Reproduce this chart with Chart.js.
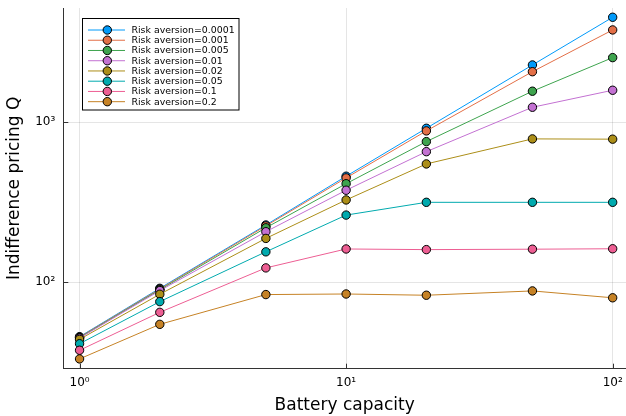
<!DOCTYPE html>
<html>
<head>
<meta charset="utf-8">
<script src="https://cdn.jsdelivr.net/npm/chart.js@4.4.1/dist/chart.umd.min.js"></script>
<style>
  html, body { margin: 0; padding: 0; background: #ffffff; }
  canvas { display: block; }
</style>
</head>
<body>
<canvas id="chart" width="626" height="416"></canvas>
<script>
// Battery capacities (x axis, log scale)
const capacities = [1, 2, 5, 10, 20, 50, 100];

// Indifference price Q per risk-aversion level
const q_0_0001 = [45.7, 91.7, 228, 460, 917, 2280, 4530];
const q_0_001  = [45.4, 90.8, 225, 449, 883, 2070, 3775];
const q_0_005  = [45.1, 89.8, 219, 413, 757, 1563, 2535];
const q_0_01   = [44.8, 88.7, 207, 376, 655, 1241, 1585];
const q_0_02   = [44.0, 84.2, 188, 327, 549, 787, 784];
const q_0_05   = [41.3, 75.7, 155, 263, 316, 316, 316];
const q_0_1    = [37.6, 64.9, 123, 161.5, 160, 161, 162];
const q_0_2    = [33.2, 54.6, 83.8, 84.5, 83, 88.3, 80];

const seriesLabels = [
  'Risk aversion=0.0001', 'Risk aversion=0.001', 'Risk aversion=0.005',
  'Risk aversion=0.01', 'Risk aversion=0.02', 'Risk aversion=0.05',
  'Risk aversion=0.1', 'Risk aversion=0.2'
];
const seriesValues = [q_0_0001, q_0_001, q_0_005, q_0_01, q_0_02, q_0_05, q_0_1, q_0_2];

// Major decade ticks
const xTicks = [1, 10, 100];
const yTicks = [100, 1000];

const palette = ['#009AFA', '#E36F47', '#3EA44E', '#C371D2', '#AC8E18', '#00AAAE', '#ED5E93', '#C68225'];
const FONT = 'DejaVu Sans';
const SUP = { '0': '\u2070', '1': '\u00B9', '2': '\u00B2', '3': '\u00B3', '4': '\u2074', '5': '\u2075' };
const powLabel = (v) => '10' + String(Math.round(Math.log10(v))).split('').map(c => SUP[c] || c).join('');

const datasets = seriesValues.map((vals, i) => ({
  label: seriesLabels[i],
  data: capacities.map((c, j) => ({ x: c, y: vals[j] })),
  borderColor: palette[i],
  backgroundColor: palette[i],
  pointBackgroundColor: palette[i],
  pointBorderColor: '#000000',
  pointBorderWidth: 1,
  pointRadius: 4.2,
  borderWidth: 1,
  tension: 0,
  clip: false,
  order: seriesValues.length - i
}));

// Inward tick marks on the axes and an in-plot legend box
const decorations = {
  id: 'decorations',
  afterDatasetsDraw(chart) {
    const ctx = chart.ctx;
    const area = chart.chartArea;
    const xs = chart.scales.x, ys = chart.scales.y;
    ctx.save();
    ctx.strokeStyle = '#333333';
    ctx.lineWidth = 1;
    xTicks.forEach(v => {
      const px = Math.round(xs.getPixelForValue(v)) + 0.5;
      ctx.beginPath(); ctx.moveTo(px, area.bottom); ctx.lineTo(px, area.bottom - 5); ctx.stroke();
    });
    yTicks.forEach(v => {
      const py = Math.round(ys.getPixelForValue(v)) + 0.5;
      ctx.beginPath(); ctx.moveTo(area.left, py); ctx.lineTo(area.left + 5, py); ctx.stroke();
    });

    // legend
    const bx = 82.5, by = 18.5, bw = 156.5, bh = 91.5;
    ctx.fillStyle = '#ffffff';
    ctx.fillRect(bx, by, bw, bh);
    ctx.strokeStyle = '#000000';
    ctx.strokeRect(bx, by, bw, bh);
    ctx.font = '9.4px "' + FONT + '"';
    ctx.textBaseline = 'middle';
    ctx.textAlign = 'left';
    chart.data.datasets.forEach((ds, i) => {
      const y = 30 + i * 10.24;
      ctx.strokeStyle = ds.borderColor;
      ctx.lineWidth = 1;
      ctx.beginPath(); ctx.moveTo(88, y); ctx.lineTo(125, y); ctx.stroke();
      ctx.beginPath(); ctx.arc(107.3, y, 4.2, 0, Math.PI * 2);
      ctx.fillStyle = ds.pointBackgroundColor; ctx.fill();
      ctx.strokeStyle = '#000000'; ctx.stroke();
      ctx.fillStyle = '#000000';
      ctx.fillText(ds.label, 131.5, y + 0.5);
    });
    ctx.restore();
  }
};

new Chart(document.getElementById('chart'), {
  type: 'line',
  data: { datasets },
  plugins: [decorations],
  options: {
    responsive: false,
    animation: false,
    devicePixelRatio: 1,
    layout: { autoPadding: false, padding: { top: 8, right: 0, bottom: 0, left: 0 } },
    plugins: { legend: { display: false }, tooltip: { enabled: false } },
    scales: {
      x: {
        type: 'logarithmic',
        min: Math.pow(10, -0.061),
        max: Math.pow(10, 2.05),
        afterBuildTicks: (s) => { s.ticks = xTicks.map(v => ({ value: v, major: true })); },
        afterFit: (s) => { s.height = 47.3; s.paddingLeft = 0; s.paddingRight = 0; },
        ticks: {
          callback: (v) => powLabel(v),
          font: { family: FONT, size: 12 },
          color: '#000000',
          maxRotation: 0,
          padding: 7,
          autoSkip: false
        },
        grid: { color: 'rgba(0,0,0,0.1)', lineWidth: 1, drawTicks: false },
        border: { color: '#333333', width: 1 },
        title: {
          display: true,
          text: 'Battery capacity',
          font: { family: FONT, size: 17 },
          color: '#000000',
          padding: { top: 0, bottom: 0 }
        }
      },
      y: {
        type: 'logarithmic',
        min: Math.pow(10, 1.46),
        max: Math.pow(10, 3.714),
        afterBuildTicks: (s) => { s.ticks = yTicks.map(v => ({ value: v, major: true })); },
        afterFit: (s) => { s.width = 63.3; s.paddingTop = 0; s.paddingBottom = 0; },
        ticks: {
          callback: (v) => powLabel(v),
          font: { family: FONT, size: 12 },
          color: '#000000',
          padding: 8,
          autoSkip: false
        },
        grid: { color: 'rgba(0,0,0,0.1)', lineWidth: 1, drawTicks: false },
        border: { color: '#333333', width: 1 },
        title: {
          display: true,
          text: 'Indifference pricing Q',
          font: { family: FONT, size: 17 },
          color: '#000000',
          padding: { top: 4.5, bottom: 0 }
        }
      }
    }
  }
});
</script>
</body>
</html>
